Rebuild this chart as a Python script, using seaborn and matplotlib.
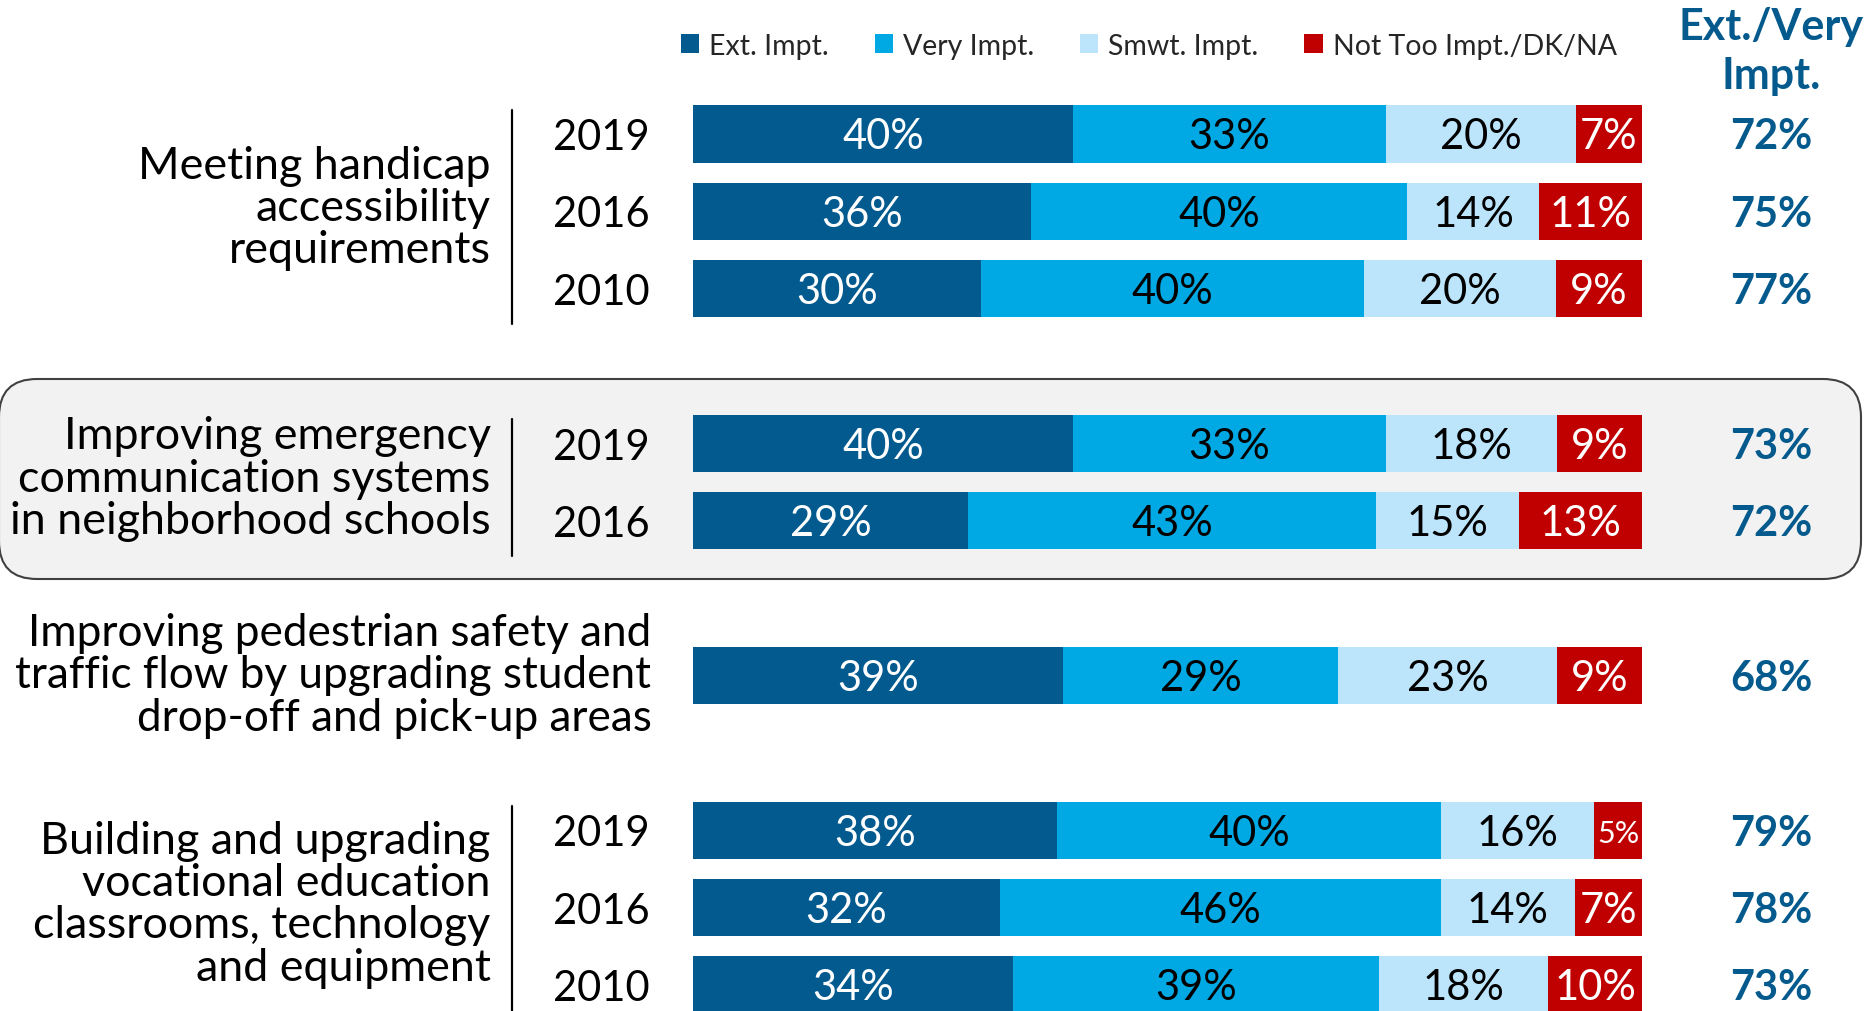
import numpy as np
import pandas as pd
import matplotlib
matplotlib.use("Agg")
import matplotlib.pyplot as plt
from matplotlib.patches import Patch, FancyBboxPatch
import seaborn as sns

# ---------------- data ----------------
groups = [
    "Meeting handicap\naccessibility\nrequirements",
    "Improving emergency\ncommunication systems\nin neighborhood schools",
    "Improving pedestrian safety and\ntraffic flow by upgrading student\ndrop-off and pick-up areas",
    "Building and upgrading\nvocational education\nclassrooms, technology\nand equipment",
]
row_group = [0, 0, 0, 1, 1, 2, 3, 3, 3]
row_year = ["2019", "2016", "2010", "2019", "2016", "", "2019", "2016", "2010"]
ext = [40, 36, 30, 40, 29, 39, 38, 32, 34]
very = [33, 40, 40, 33, 43, 29, 40, 46, 39]
smwt = [20, 14, 20, 18, 15, 23, 16, 14, 18]
notoo = [7, 11, 9, 9, 13, 9, 5, 7, 10]
ext_very = [72, 75, 77, 73, 72, 68, 79, 78, 73]

series_names = ["Ext. Impt.", "Very Impt.", "Smwt. Impt.", "Not Too Impt./DK/NA"]
series_colors = ["#035A8F", "#00A9E3", "#BCE4FA", "#C00000"]
label_colors = ["white", "black", "black", "white"]
header = ["Ext./Very", "Impt."]
blue_text = "#045A8C"

# ---------------- style ----------------
sns.set_style("white")
plt.rcParams["font.family"] = ["Lato", "DejaVu Sans"]

fig = plt.figure(figsize=(18.68, 10.12), dpi=100)
ax = fig.add_axes([0, 0, 1, 1])
ax.patch.set_alpha(0)

# rows positions: blank slot between groups
pos = [i + g for i, g in enumerate(row_group)]
vals = np.array([ext, very, smwt, notoo], dtype=float).T
share = vals / vals.sum(axis=1, keepdims=True) * 100
cum = np.cumsum(share, axis=1)

df = pd.DataFrame({"pos": pos})
for k in range(4):
    df[f"cum{k}"] = cum[:, k]

# draw cumulative layers from the longest to the shortest
for k in range(3, -1, -1):
    sns.barplot(data=df, x=f"cum{k}", y="pos", orient="y", native_scale=True,
                color=series_colors[k], saturation=1, width=0.74,
                errorbar=None, linewidth=0, ax=ax)

ax.set_xlim(-73.03, 123.8)
ax.set_ylim(11.337, -1.745)
ax.axis("off")

FS = 30
# segment labels
for r in range(len(pos)):
    left = 0
    for k in range(4):
        w = share[r, k]
        v = vals[r, k]
        fs = FS if v >= 6 else 22
        ax.text(left + w / 2, pos[r] + 0.03, f"{int(v)}%", ha="center", va="center",
                fontsize=fs, color=label_colors[k])
        left += w
    # year labels
    if row_year[r]:
        ax.text(-9.66, pos[r] + 0.04, row_year[r], ha="center", va="center",
                fontsize=FS, color="black")
    # right column
    ax.text(113.6, pos[r] + 0.03, f"{ext_very[r]}%", ha="center", va="center",
            fontsize=FS, fontweight="bold", color=blue_text)

# group labels and separators
for g, name in enumerate(groups):
    rows = [pos[i] for i in range(len(pos)) if row_group[i] == g]
    center = (rows[0] + rows[-1]) / 2
    has_year = any(row_year[i] for i in range(len(pos)) if row_group[i] == g)
    if has_year:
        ax.plot([-19.07, -19.07], [rows[0] - 0.31, rows[-1] + 0.45], color="black",
                lw=1.6, clip_on=False)
        ax.text(-21.34, center - 0.05, name, ha="right", va="center", fontsize=32.3,
                linespacing=1.04, color="black")
    else:
        ax.text(-4.39, center - 0.01, name, ha="right", va="center", fontsize=31.8,
                linespacing=1.05, color="black")

# header
ax.text(113.6, -1.39, header[0], ha="center", va="center", fontsize=31,
        fontweight="bold", color=blue_text)
ax.text(113.6, -0.76, header[1], ha="center", va="center", fontsize=31,
        fontweight="bold", color=blue_text)

# legend
handles = [Patch(facecolor=c, edgecolor="none", label=n)
           for c, n in zip(series_colors, series_names)]
leg = ax.legend(handles=handles, ncol=4, frameon=False, loc="center",
                bbox_to_anchor=(0.615, 0.954), bbox_transform=fig.transFigure,
                fontsize=20.5, handlelength=0.65, handleheight=0.65,
                handletextpad=0.35, columnspacing=1.6)

# highlighted rounded box behind group 2
box = FancyBboxPatch((-0.01, 4.32), 18.62, 2.0,
                     boxstyle="round,pad=0,rounding_size=0.38",
                     transform=fig.dpi_scale_trans, facecolor="#F2F2F2",
                     edgecolor="#404040", linewidth=1.5, zorder=-5)
fig.add_artist(box)

fig.savefig("out.png", dpi=100)
